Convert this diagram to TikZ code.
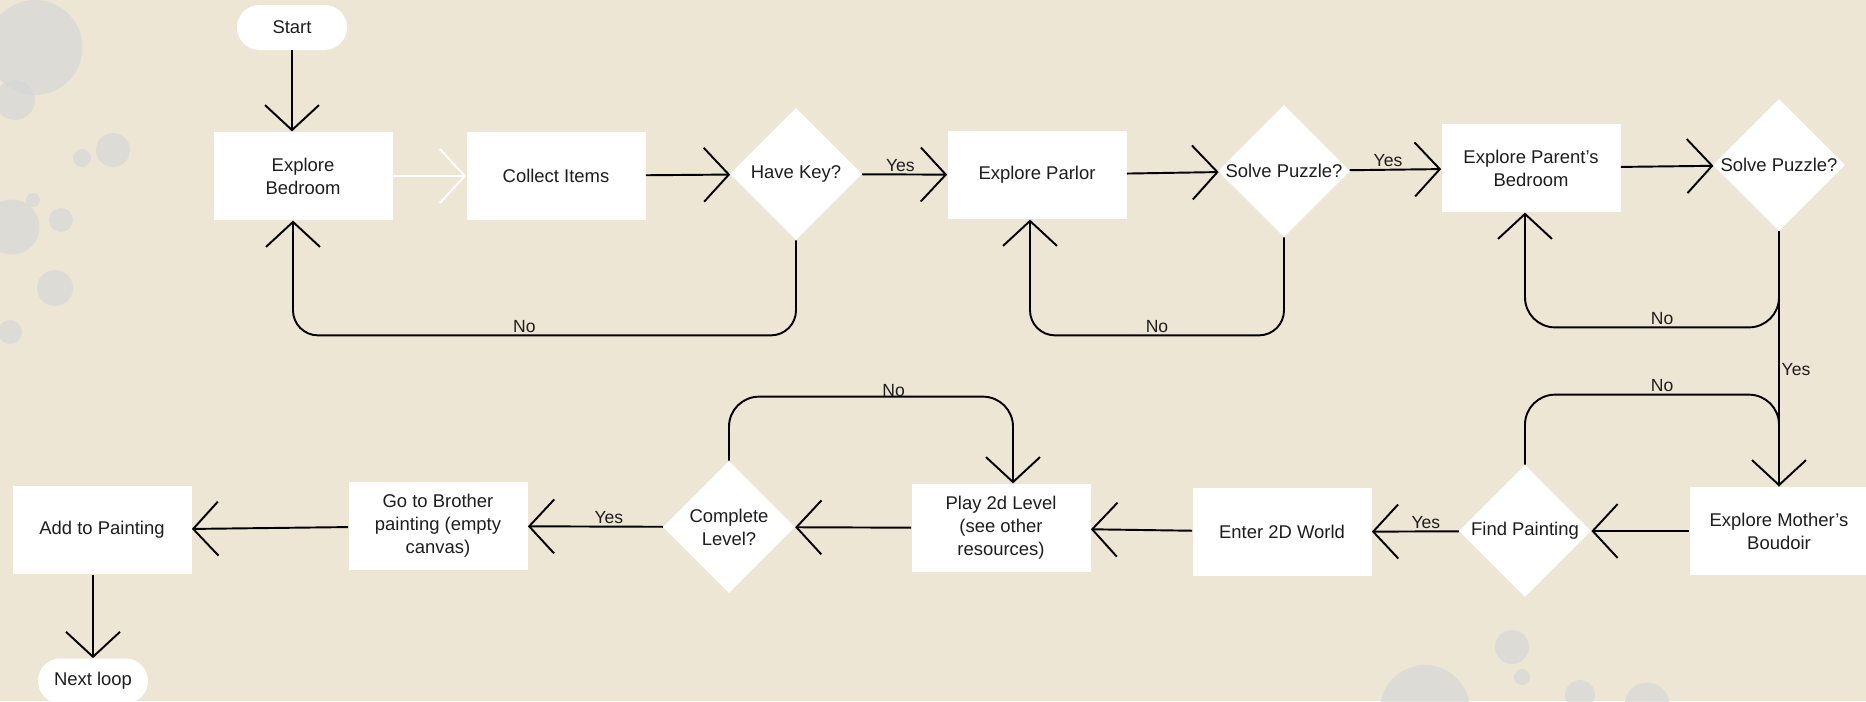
\documentclass[tikz,border=0pt]{standalone}
\usepackage{fontspec}
\setmainfont{Liberation Sans}
\usepackage{tikz}
\usetikzlibrary{shapes,arrows.meta}
\usetikzlibrary{positioning}
\usepackage{xcolor}
\definecolor{paper}{RGB}{238,230,212}
\definecolor{stain}{RGB}{214,216,214}
\definecolor{ink}{RGB}{30,30,30}
\tikzstyle{line} = [draw, line width=1.1pt, -{Straight Barb[length=5mm, width=10.8mm]}]
\tikzstyle{room} = [rectangle, minimum width=3.58cm, minimum height=1.77cm, text centered, align=center,
     fill=white, text=ink, font=\fontsize{10.5}{13}\selectfont]
\tikzstyle{decision} = [diamond, minimum width=2.64cm, minimum height=2.64cm, inner sep=0pt, text centered,
     align=center, fill=white, text=ink, font=\fontsize{10.5}{13}\selectfont]
\tikzstyle{terminal} = [rectangle, rounded corners=0.45cm, minimum width=2.2cm, minimum height=0.9cm,
     text centered, fill=white, text=ink, font=\fontsize{10.5}{13}\selectfont]
\tikzstyle{answer} = [text=ink, inner sep=1pt, font=\fontsize{10}{12}\selectfont]

\begin{document}
\begin{tikzpicture}
\fill[paper] (0,0) rectangle (37.32,-14.02);
\useasboundingbox (0,0) rectangle (37.32,-14.02);
% stains
\begin{scope}[fill opacity=0.75]
\fill[stain] (0.7,-0.95) circle (0.95);
\fill[stain] (0.3,-2.0) circle (0.4);
\fill[stain] (2.26,-3.0) circle (0.34);
\fill[stain] (1.64,-3.16) circle (0.18);
\fill[stain] (0.66,-4.0) circle (0.14);
\fill[stain] (1.22,-4.4) circle (0.24);
\fill[stain] (0.24,-4.54) circle (0.55);
\fill[stain] (1.1,-5.76) circle (0.36);
\fill[stain] (0.2,-6.64) circle (0.24);
\fill[stain] (30.24,-12.94) circle (0.34);
\fill[stain] (30.44,-13.54) circle (0.16);
\fill[stain] (28.5,-14.2) circle (0.9);
\fill[stain] (31.6,-13.9) circle (0.3);
\fill[stain] (32.94,-14.1) circle (0.45);
\end{scope}

% top row
\node (bedroom) [room] at (6.06,-3.52) {Explore\\Bedroom};
\node (start) [terminal, above of=bedroom, xshift=-0.22cm, yshift=1.97cm] {Start};
\node (collect) [room, right of=bedroom, xshift=4.06cm] {Collect Items};
\node (havekey) [decision, right of=collect, xshift=3.80cm, yshift=0.04cm] {Have Key?};
\node (parlor) [room, right of=havekey, xshift=3.82cm, yshift=-0.02cm] {Explore Parlor};
\node (solve1) [decision, right of=parlor, xshift=3.94cm, yshift=0.08cm] {Solve Puzzle?};
\node (parents) [room, right of=solve1, xshift=3.94cm, yshift=0.06cm] {Explore Parent’s\\Bedroom};
\node (solve2) [decision, right of=parents, xshift=3.96cm, yshift=0.06cm] {Solve Puzzle?};

% bottom row
\node (boudoir) [room, below of=solve2, yshift=-6.32cm] {Explore Mother’s\\Boudoir};
\node (findpaint) [decision, left of=boudoir, xshift=-4.08cm] {Find Painting};
\node (enter2d) [room, left of=findpaint, xshift=-3.86cm, yshift=-0.02cm] {Enter 2D World};
\node (play) [room, left of=enter2d, xshift=-4.62cm, yshift=0.08cm] {Play 2d Level\\(see other\\resources)};
\node (complete) [decision, left of=play, xshift=-4.44cm, yshift=0.02cm] {Complete\\Level?};
\node (brother) [room, left of=complete, xshift=-4.82cm, yshift=0.02cm] {Go to Brother\\painting (empty\\canvas)};
\node (addpaint) [room, left of=brother, xshift=-5.72cm, yshift=-0.08cm] {Add to Painting};
\node (nextloop) [terminal, below of=addpaint, xshift=-0.18cm, yshift=-2.02cm] {Next loop};

\draw[line] (start) -- (start |- bedroom.north);
\draw[line, white] (bedroom) -- (collect);
\draw[line] (collect) -- (havekey);
\draw[line] (havekey) -- node[answer, above, pos=0.45] {Yes} (parlor);
\draw[line] (parlor) -- (solve1);
\draw[line] (solve1) -- node[answer, above, pos=0.42] {Yes} (parents);
\draw[line] (parents) -- (solve2);
\draw[line] (solve2) -- node[answer, right, pos=0.54] {Yes} (boudoir);

\draw[line, rounded corners=0.5cm] (havekey.south) -- ++(0,-1.90) -| node[answer, above, pos=0.27] {No} ([xshift=-0.2cm]bedroom.south);
\draw[line, rounded corners=0.5cm] (solve1.south) -- ++(0,-1.96) -| node[answer, above, pos=0.25] {No} ([xshift=-0.14cm]parlor.south);
\draw[line, rounded corners=0.6cm] (solve2.south) -- ++(0,-1.92) -| node[answer, above, pos=0.23] {No} ([xshift=-0.12cm]parents.south);

\draw[line] (boudoir) -- (findpaint);
\draw[line] (findpaint) -- node[answer, above, pos=0.38] {Yes} (enter2d);
\draw[line] (enter2d) -- (play);
\draw[line] (play) -- (complete);
\draw[line] (complete) -- node[answer, above, pos=0.40] {Yes} (brother);
\draw[line] (brother) -- (addpaint);
\draw[line] (nextloop |- addpaint.south) -- (nextloop);

\draw[line width=1.1pt, rounded corners=0.6cm] (findpaint.north) -- ++(0,1.40) -| node[answer, above, pos=0.27] {No} (boudoir.north);
\draw[line, rounded corners=0.6cm] (complete.north) -- ++(0,1.28) -| node[answer, yshift=0.13cm, pos=0.29] {No} ([xshift=0.24cm]play.north);
\end{tikzpicture}
\end{document}
